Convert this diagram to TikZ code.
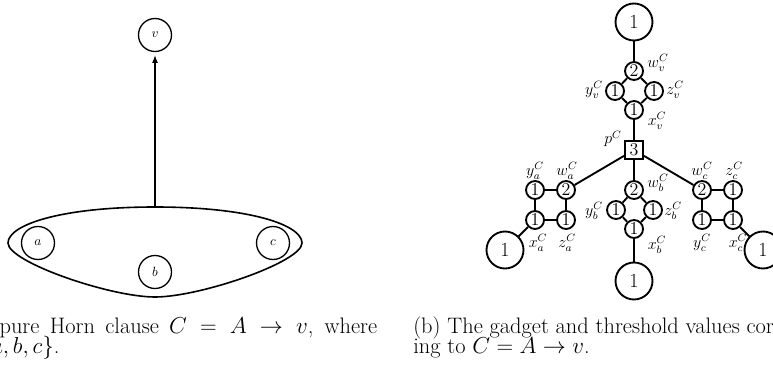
\documentclass[tikz,border=0pt]{standalone}
\usetikzlibrary{arrows.meta}
\begin{document}
\begin{tikzpicture}[x=0.75pt,y=-0.75pt,
  vert/.style={circle,draw,line width=1pt,minimum size=24.75pt,inner sep=0pt,font=\fontsize{10}{12}\selectfont},
  bigone/.style={circle,draw,line width=1.4pt,minimum size=27.75pt,inner sep=0pt,font=\fontsize{15}{18}\selectfont},
  smv/.style={circle,draw,line width=1.4pt,minimum size=13.5pt,inner sep=0pt,font=\fontsize{13.5}{16}\selectfont},
  sqv/.style={rectangle,draw,line width=1.4pt,minimum size=13.5pt,inner sep=0pt,font=\fontsize{13.5}{16}\selectfont},
  lab/.style={inner sep=0pt,font=\fontsize{12}{14}\selectfont},
  edge/.style={line width=1.4pt},
  capt/.style={inner sep=0pt,font=\fontsize{16.8}{16}\selectfont},
]
\useasboundingbox (0,0) rectangle (773,367);
\begin{scope}
\clip (0,0) rectangle (773,367);

% ---------- left diagram ----------
\node[vert] (v) at (155,35) {$v$};
\node[vert] (a) at (38,243) {$a$};
\node[vert] (b) at (155,272) {$b$};
\node[vert] (c) at (273,243) {$c$};
\coordinate (top) at (155,207);
\draw[line width=1.2pt] (8,243) .. controls (8,225) and (60,207) .. (top)
   .. controls (250,207) and (302,225) .. (302,243)
   .. controls (302,262) and (200,297) .. (155,297)
   .. controls (110,297) and (8,262) .. (8,243) -- cycle;
\draw[line width=1.2pt,-{Latex[length=6pt,width=4.5pt]},shorten >=2pt] (top) -- (v);

% ---------- right diagram ----------
\node[bigone] (T1) at (634,22) {1};
\node[smv] (wv) at (634,71) {2};
\node[smv] (yv) at (615,91) {1};
\node[smv] (zv) at (654,91) {1};
\node[smv] (xv) at (634,110) {1};
\node[sqv] (p) at (634,150) {3};

\node[smv] (wa) at (566,190) {2};
\node[smv] (ya) at (535,190) {1};
\node[smv] (xa) at (535,220) {1};
\node[smv] (za) at (566,220) {1};
\node[bigone] (A1) at (505,250) {1};

\node[smv] (wb) at (634,190) {2};
\node[smv] (yb) at (616,210) {1};
\node[smv] (zb) at (653,210) {1};
\node[smv] (xb) at (634,229) {1};
\node[bigone] (B1) at (634,281) {1};

\node[smv] (wc) at (702,190) {2};
\node[smv] (zc) at (733,190) {1};
\node[smv] (yc) at (702,220) {1};
\node[smv] (xc) at (733,220) {1};
\node[bigone] (C1) at (763,250) {1};

\draw[edge] (T1) -- (wv);
\draw[edge] (wv) -- (yv); \draw[edge] (wv) -- (zv);
\draw[edge] (yv) -- (xv); \draw[edge] (zv) -- (xv);
\draw[edge] (xv) -- (p);
\draw[edge] (p) -- (wa); \draw[edge] (p) -- (wb); \draw[edge] (p) -- (wc);
\draw[edge] (ya) -- (wa); \draw[edge] (ya) -- (xa);
\draw[edge] (wa) -- (za); \draw[edge] (xa) -- (za);
\draw[edge] (xa) -- (A1);
\draw[edge] (wb) -- (yb); \draw[edge] (wb) -- (zb);
\draw[edge] (yb) -- (xb); \draw[edge] (zb) -- (xb);
\draw[edge] (xb) -- (B1);
\draw[edge] (wc) -- (zc); \draw[edge] (wc) -- (yc);
\draw[edge] (zc) -- (xc); \draw[edge] (yc) -- (xc);
\draw[edge] (xc) -- (C1);

\node[lab] (lwv) at (658,63) {$w_v^C$};
\node[lab] (lyv) at (594,90) {$y_v^C$};
\node[lab] (lzv) at (675,90) {$z_v^C$};
\node[lab] (lxv) at (657,121) {$x_v^C$};
\node[lab] (lp) at (613,139) {$p^C$};
\node[lab] (lya) at (535,171) {$y_a^C$};
\node[lab] (lwa) at (567,171) {$w_a^C$};
\node[lab] (lxa) at (538,243) {$x_a^C$};
\node[lab] (lza) at (567,243) {$z_a^C$};
\node[lab] (lwb) at (658,183) {$w_b^C$};
\node[lab] (lyb) at (594,211) {$y_b^C$};
\node[lab] (lzb) at (673,211) {$z_b^C$};
\node[lab] (lxb) at (657,245) {$x_b^C$};
\node[lab] (lwc) at (702,171) {$w_c^C$};
\node[lab] (lzc) at (734,171) {$z_c^C$};
\node[lab] (lyc) at (702,243) {$y_c^C$};
\node[lab] (lxc) at (738,243) {$x_c^C$};

% ---------- captions ----------
\node[capt,anchor=base west] (capa1) at (-63,333) {\hbox to 330pt{(a) A pure Horn clause $C = A \rightarrow v$, where}};
\node[capt,anchor=base west] (capa2) at (-67,353) {$A = \{a, b, c\}$.};
\node[capt,anchor=base west] (capb1) at (413,333) {(b) The gadget and threshold values correspond-};
\node[capt,anchor=base west] (capb2) at (413,353) {ing to $C = A \rightarrow v$.};
\end{scope}
\end{tikzpicture}
\end{document}
